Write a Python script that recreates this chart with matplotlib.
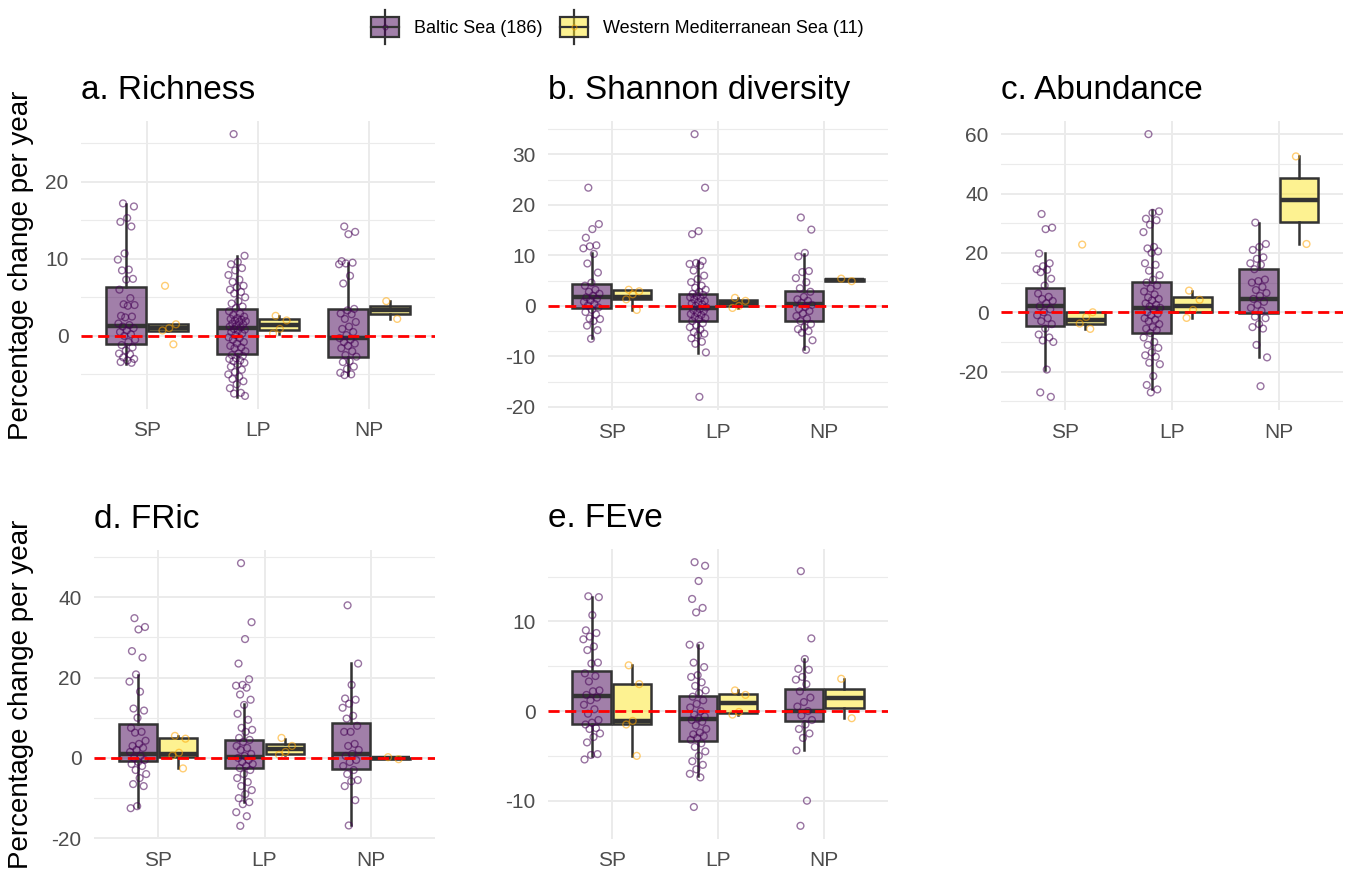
import numpy as np
import matplotlib
matplotlib.use('Agg')
import matplotlib.pyplot as plt
import matplotlib.transforms as mtransforms
from matplotlib.colors import to_rgba
from matplotlib.legend_handler import HandlerBase
from matplotlib.patches import Patch, Rectangle
from matplotlib.lines import Line2D
from matplotlib.ticker import MultipleLocator, AutoMinorLocator, FuncFormatter

PERIODS = ['SP', 'LP', 'NP']
REGIONS = ['Baltic Sea (186)', 'Western Mediterranean Sea (11)']
TITLES = ['a. Richness', 'b. Shannon diversity', 'c. Abundance', 'd. FRic', 'e. FEve']
YLABEL = 'Percentage change per year'

# box stats per period: [lower whisker, q1, median, q3, upper whisker]
# a. Richness
RICH_BALTIC_PTS = [
    [17.2, 16.8, 15.3, 14.8, 14.2, 10.7, 9.9, 8.6, 8.5, 7.4, 7.3, 6.0, 4.9, 4.1, 4.0, 3.9, 2.6, 2.5, 2.4,
     1.6, 1.4, 1.2, 1.0, 0.7, 0.5, 0.2, 0.0, -0.5, -0.8, -1.2, -1.5, -1.9, -2.3, -2.4, -2.8, -3.0, -3.2, -3.4, -3.5],
    [26.2, 10.4, 9.6, 9.3, 8.8, 8.5, 7.9, 7.3, 7.0, 6.5, 6.3, 6.0, 5.7, 5.5, 5.0, 4.5, 4.2, 3.8, 3.6, 3.2, 2.9,
     2.7, 2.5, 2.3, 2.2, 2.1, 2.0, 1.9, 1.8, 1.6, 1.5, 1.3, 1.2, 1.1, 0.9, 0.8, 0.7, 0.5, 0.3, 0.1, -0.2, -0.3,
     -0.5, -0.8, -1.0, -1.3, -1.5, -1.6, -2.0, -2.3, -2.5, -2.6, -2.9, -3.0, -3.2, -3.3, -3.5, -3.7, -4.0, -4.4,
     -4.7, -5.0, -5.3, -5.6, -5.9, -6.3, -6.8, -7.4, -7.5, -7.8],
    [14.2, 13.5, 13.2, 9.7, 9.5, 9.4, 9.3, 7.8, 6.8, 3.5, 3.3, 2.9, 2.8, 2.2, 1.8, 1.2, 0.9, 0.5, 0.1, -0.3,
     -0.5, -0.8, -1.0, -1.3, -1.6, -2.0, -2.5, -2.7, -3.3, -3.4, -4.0, -4.3, -4.8, -5.0, -5.1],
]
RICH_MED_PTS = [[6.5, 1.5, 1.0, 0.7, -1.1], [2.6, 2.0, 0.9, 0.3], [4.5, 2.2]]
RICH_BALTIC_BOX = [[-3.6, -1.1, 1.3, 6.3, 17.1], [-8.0, -2.35, 1.0, 3.5, 10.4], [-5.1, -2.7, -0.3, 3.5, 9.5]]
RICH_MED_BOX = [[0.7, 0.6, 1.0, 1.55, 1.55], [0.3, 0.75, 1.45, 2.15, 2.6], [2.2, 2.78, 3.35, 3.93, 4.5]]

# b. Shannon diversity
SHAN_BALTIC_PTS = [
    [23.4, 16.2, 15.2, 13.5, 12.0, 11.8, 11.4, 10.3, 8.4, 6.6, 4.6, 4.0, 3.2, 2.8, 2.4, 2.0, 1.7, 1.4, 1.1,
     0.8, 0.4, 0.1, -0.3, -0.8, -1.2, -1.7, -2.5, -2.6, -3.0, -3.9, -4.8, -6.5],
    [34.0, 23.4, 14.8, 14.2, 8.9, 8.5, 8.3, 8.0, 7.0, 6.0, 5.3, 4.7, 4.0, 3.6, 3.2, 2.8, 2.4, 2.2, 2.0, 1.7,
     1.5, 1.3, 1.0, 0.7, 0.5, 0.3, 0.0, -0.3, -0.6, -0.8, -1.0, -1.4, -1.6, -1.8, -2.2, -2.4, -2.6, -3.0, -3.4,
     -3.8, -4.2, -4.7, -5.2, -5.5, -5.8, -6.4, -7.1, -7.5, -9.2, -18.0],
    [17.5, 15.1, 10.5, 9.8, 6.9, 6.7, 5.5, 4.7, 3.5, 2.8, 1.8, 1.3, 1.0, 0.6, 0.2, -0.2, -0.6, -1.0, -1.5,
     -2.0, -2.5, -3.0, -3.6, -4.2, -4.6, -5.0, -5.3, -6.8, -8.7],
]
SHAN_MED_PTS = [[3.2, 2.9, 2.3, 1.3, -0.8], [1.6, 1.0, 0.0, -0.4], [5.4, 4.9]]
SHAN_BALTIC_BOX = [[-6.4, -0.5, 1.7, 4.4, 10.5], [-9.3, -3.0, -0.5, 2.3, 8.9], [-8.6, -3.0, 0.3, 3.0, 10.3]]
SHAN_MED_BOX = [[-0.8, 1.3, 1.8, 3.1, 3.2], [-0.4, -0.1, 0.5, 1.15, 1.6], [4.9, 5.03, 5.15, 5.28, 5.4]]

# c. Abundance
ABUN_BALTIC_PTS = [
    [33.1, 28.5, 28.0, 19.8, 16.5, 15.5, 14.5, 14.3, 13.5, 11.3, 9.0, 6.3, 5.2, 4.5, 3.8, 3.0, 2.0, 1.0, 0.0,
     -1.0, -2.0, -3.0, -4.0, -5.5, -7.5, -8.5, -9.5, -10.0, -19.3, -27.0, -28.5],
    [60.0, 34.0, 33.5, 31.5, 31.0, 29.5, 27.0, 22.0, 21.5, 20.5, 20.0, 16.5, 16.0, 14.0, 12.5, 11.0, 10.0,
     9.0, 8.0, 7.0, 6.0, 5.0, 4.5, 4.0, 3.0, 2.5, 2.0, 1.5, 1.0, 0.0, -0.5, -1.0, -2.0, -2.5, -3.0, -4.0,
     -5.0, -5.5, -6.0, -7.0, -8.5, -10.0, -11.0, -12.0, -13.5, -14.5, -15.0, -17.0, -17.5, -21.5, -24.5,
     -26.0, -27.0],
    [30.2, 23.0, 22.0, 21.0, 18.5, 18.0, 16.5, 16.0, 14.5, 11.0, 10.5, 10.0, 8.5, 7.5, 6.5, 5.5, 4.5, 3.5,
     2.5, 1.5, 0.5, -1.5, -2.0, -4.0, -5.0, -5.5, -11.0, -15.2, -24.9],
]
ABUN_MED_PTS = [[22.8, 0.0, -1.6, -3.8, -5.6], [7.3, 4.2, 0.8, -1.9], [52.5, 23.0]]
ABUN_BALTIC_BOX = [[-19.3, -4.5, 2.2, 8.2, 19.8], [-26.0, -7.0, 1.3, 10.3, 34.3], [-15.2, -0.3, 4.4, 14.5, 30.2]]
ABUN_MED_BOX = [[-5.6, -4.0, -2.6, 0.0, 0.0], [-1.9, 0.2, 2.2, 5.0, 7.3], [23.0, 30.4, 37.75, 45.1, 52.5]]

# d. FRic
FRIC_BALTIC_PTS = [
    [34.8, 32.6, 32.0, 26.6, 25.0, 20.8, 19.0, 16.5, 12.3, 11.8, 10.0, 7.5, 6.5, 6.3, 4.3, 3.5, 3.0, 2.5,
     2.0, 1.5, 0.5, 0.0, -0.5, -1.0, -1.5, -2.0, -3.0, -4.0, -5.0, -6.5, -7.0, -12.0, -12.5],
    [48.5, 33.8, 29.6, 23.5, 19.6, 18.2, 18.0, 17.5, 15.8, 14.5, 13.2, 11.0, 9.5, 7.5, 7.0, 6.5, 5.0, 4.5,
     4.0, 3.0, 2.5, 2.0, 1.0, 0.5, 0.0, -0.5, -1.0, -1.5, -2.0, -2.5, -3.0, -4.0, -5.0, -6.0, -7.0, -8.0,
     -9.0, -10.0, -11.0, -11.5, -13.5, -14.5, -16.9],
    [38.0, 23.5, 18.2, 14.8, 14.5, 13.5, 12.5, 10.5, 9.8, 8.0, 6.5, 6.5, 3.5, 3.0, 2.0, 1.0, 0.5, -0.5,
     -1.0, -2.0, -3.0, -4.0, -5.5, -5.8, -7.0, -10.5, -16.8],
]
FRIC_MED_PTS = [[5.5, 4.8, 1.3, 0.6, -2.6], [5.0, 3.0, 1.5, 0.8], [0.2, -0.3]]
FRIC_BALTIC_BOX = [[-12.3, -0.8, 1.1, 8.5, 20.7], [-11.0, -2.6, 0.3, 4.5, 13.4], [-16.8, -2.7, 0.9, 8.7, 23.6]]
FRIC_MED_BOX = [[-2.6, 0.3, 1.0, 5.0, 5.5], [0.8, 1.1, 2.2, 3.6, 4.6], [-0.3, -0.18, -0.05, 0.08, 0.2]]

# e. FEve
FEVE_BALTIC_PTS = [
    [12.8, 12.7, 10.7, 9.0, 8.7, 8.3, 8.0, 7.2, 6.8, 5.4, 5.3, 4.2, 3.9, 3.3, 2.3, 2.2, 1.8, 1.5, 1.2, 0.7,
     0.2, -0.3, -1.0, -1.3, -1.5, -1.9, -2.0, -2.5, -2.9, -3.5, -4.8, -4.9, -5.4],
    [16.6, 16.2, 14.5, 12.5, 11.5, 11.0, 7.4, 7.3, 5.4, 4.9, 4.0, 3.8, 3.2, 2.8, 2.3, 2.0, 1.6, 1.2, 0.8,
     0.4, 0.0, -0.4, -0.6, -0.8, -1.0, -1.2, -1.6, -2.0, -2.4, -2.6, -2.8, -3.0, -3.2, -3.6, -4.0, -4.5,
     -5.0, -5.6, -6.0, -6.5, -7.0, -7.4, -10.7],
    [15.6, 8.1, 5.8, 4.7, 4.6, 3.8, 3.5, 3.0, 2.2, 1.5, 1.0, 0.5, 0.0, -0.5, -1.0, -1.5, -2.0, -2.5, -3.0,
     -4.4, -10.0, -12.8],
]
FEVE_MED_PTS = [[5.1, 3.0, -1.1, -1.5, -5.0], [2.3, 1.8, -0.1, -0.4], [3.6, -0.8]]
FEVE_BALTIC_BOX = [[-5.0, -1.4, 1.7, 4.5, 12.7], [-7.2, -3.3, -0.85, 1.65, 7.4], [-4.4, -1.15, 0.0, 2.5, 5.8]]
FEVE_MED_BOX = [[-5.0, -1.5, -1.1, 3.0, 5.1], [-0.4, -0.18, 0.85, 1.93, 2.3], [-0.8, 0.3, 1.4, 2.5, 3.6]]

BALTIC_COLOR = '#440154'
MED_COLOR = '#FDE725'
BALTIC_PT = '#440154'
MED_PT = '#FFA500'
EDGE = '#333333'
GRID = '#EBEBEB'

W, H = 1349, 873
# panel rectangles in pixels: left, top, right, bottom
PANEL_PX = [(81, 121, 435, 409), (548, 121, 888, 410), (1001, 121, 1343, 410),
            (94, 550, 435, 839), (548, 549, 888, 839)]
Y_STEPS = [10, 10, 20, 20, 10]

plt.rcParams['font.family'] = ['Liberation Sans', 'DejaVu Sans']


class BoxLegendHandler(HandlerBase):
    def create_artists(self, legend, orig_handle, xdescent, ydescent, width, height, fontsize, trans):
        x0, y0 = -xdescent, -ydescent
        cx, cy = x0 + width / 2, y0 + height / 2
        whisk = Line2D([cx, cx], [y0 - 0.35 * height, y0 + 1.35 * height], color=EDGE, lw=1.6, transform=trans)
        box = Rectangle((x0, y0), width, height, facecolor=orig_handle.get_facecolor(),
                        edgecolor=EDGE, lw=1.6, transform=trans)
        med = Line2D([x0, x0 + width], [cy, cy], color=EDGE, lw=1.6, transform=trans)
        dot = Line2D([cx], [cy], marker='o', ms=3.5, mfc='none', mec=orig_handle.point_color,
                     mew=0.8, alpha=0.6, transform=trans)
        return [whisk, box, med, dot]


def jitter(n, half):
    return ((np.arange(n) * 0.618034 + 0.31) % 1.0 - 0.5) * 2 * half


def draw_boxes(ax, stats, pts, offset, fill, pcolor):
    xs = np.arange(len(PERIODS)) + offset
    bstats = [dict(whislo=s[0], q1=s[1], med=s[2], q3=s[3], whishi=s[4]) for s in stats]
    ax.bxp(bstats, positions=xs, widths=0.36, showfliers=False, showcaps=False, patch_artist=True,
           boxprops=dict(facecolor=to_rgba(fill, 0.5), edgecolor=EDGE, linewidth=1.8),
           medianprops=dict(color=EDGE, linewidth=3.2, solid_capstyle='butt'),
           whiskerprops=dict(color=EDGE, linewidth=1.8), zorder=2, manage_ticks=False)
    for i, vals in enumerate(pts):
        vals = np.asarray(vals)
        ax.scatter(xs[i] + jitter(len(vals), 0.08), vals, s=24, facecolors='none',
                   edgecolors=pcolor, linewidths=1.0, alpha=0.55, zorder=3)


fig = plt.figure(figsize=(W / 100, H / 100), dpi=100)

panels = [
    (RICH_BALTIC_PTS, RICH_MED_PTS, RICH_BALTIC_BOX, RICH_MED_BOX),
    (SHAN_BALTIC_PTS, SHAN_MED_PTS, SHAN_BALTIC_BOX, SHAN_MED_BOX),
    (ABUN_BALTIC_PTS, ABUN_MED_PTS, ABUN_BALTIC_BOX, ABUN_MED_BOX),
    (FRIC_BALTIC_PTS, FRIC_MED_PTS, FRIC_BALTIC_BOX, FRIC_MED_BOX),
    (FEVE_BALTIC_PTS, FEVE_MED_PTS, FEVE_BALTIC_BOX, FEVE_MED_BOX),
]

for k, (bpts, mpts, bbox, mbox) in enumerate(panels):
    l, t, r, b = PANEL_PX[k]
    ax = fig.add_axes([l / W, 1 - b / H, (r - l) / W, (b - t) / H])
    draw_boxes(ax, bbox, bpts, -0.19, BALTIC_COLOR, BALTIC_PT)
    draw_boxes(ax, mbox, mpts, 0.19, MED_COLOR, MED_PT)
    ax.axhline(0, color='red', lw=2.0, ls=(0, (4, 2)), zorder=4)

    allv = np.concatenate([np.concatenate([np.asarray(v) for v in bpts]),
                           np.concatenate([np.asarray(v) for v in mpts])])
    lo, hi = allv.min(), allv.max()
    pad = 0.05 * (hi - lo)
    ax.set_ylim(lo - pad, hi + pad)
    ax.set_xlim(-0.6, 2.6)
    ax.set_xticks(range(len(PERIODS)))
    ax.set_xticklabels(PERIODS)
    ax.yaxis.set_major_locator(MultipleLocator(Y_STEPS[k]))
    ax.yaxis.set_minor_locator(AutoMinorLocator(2))
    ax.grid(True, which='major', color=GRID, lw=1.4, zorder=0)
    ax.grid(True, which='minor', axis='y', color=GRID, lw=0.8, zorder=0)
    ax.set_axisbelow(True)
    for s in ax.spines.values():
        s.set_visible(False)
    ax.tick_params(axis='both', which='both', length=0, labelsize=15, labelcolor='#4D4D4D', pad=9)
    ax.yaxis.set_major_formatter(FuncFormatter(lambda v, p: f'{v:g}'))

    tr = mtransforms.offset_copy(ax.transAxes, fig=fig, x=0, y=22, units='dots')
    ax.text(0, 1, TITLES[k], transform=tr, fontsize=24, ha='left', va='baseline', color='black')

fig.text(21 / W, 1 - 265 / H, YLABEL, rotation=90, ha='center', va='center', fontsize=20)
fig.text(21 / W, 1 - 694 / H, YLABEL, rotation=90, ha='center', va='center', fontsize=20)

h1 = Patch(facecolor=BALTIC_COLOR, alpha=0.5)
h1.point_color = BALTIC_PT
h2 = Patch(facecolor=MED_COLOR, alpha=0.5)
h2.point_color = MED_PT
fig.legend([h1, h2], REGIONS, loc='center', bbox_to_anchor=(617 / W, 1 - 27 / H), ncol=2,
           frameon=False, fontsize=13, handlelength=1.55, handleheight=1.3, handletextpad=0.85,
           columnspacing=0.95, handler_map={Patch: BoxLegendHandler()})

fig.savefig('out.png', dpi=100)
